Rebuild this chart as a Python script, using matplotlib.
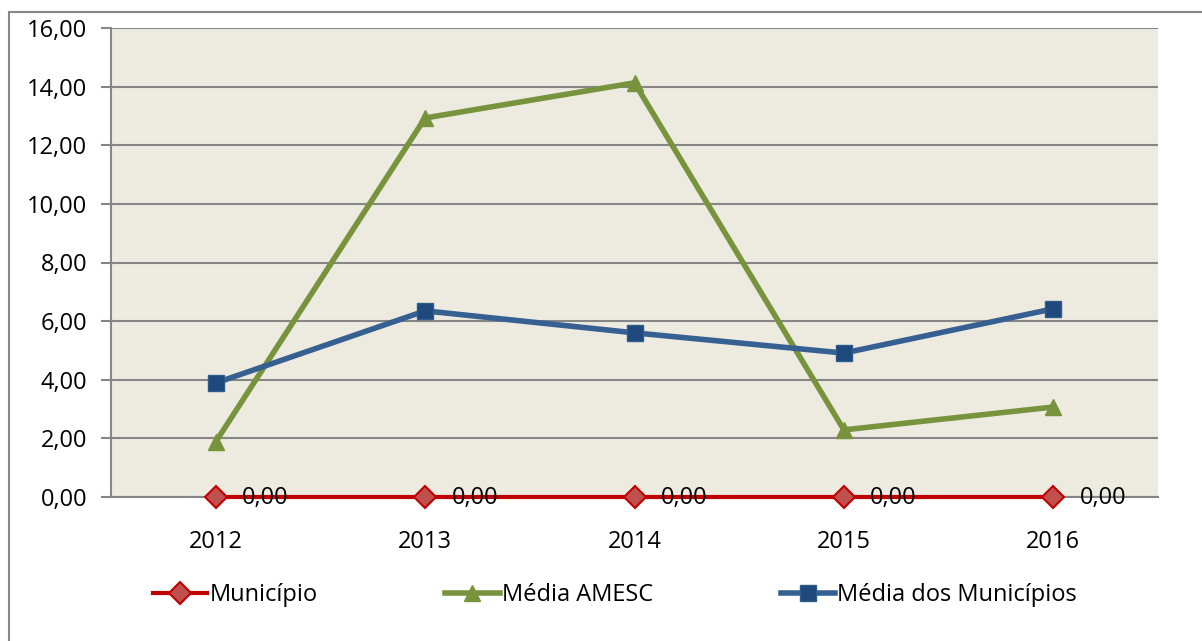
import matplotlib.pyplot as plt
from matplotlib.patches import Rectangle

# dados
anos = ["2012", "2013", "2014", "2015", "2016"]
municipio = [0.0, 0.0, 0.0, 0.0, 0.0]
media_amesc = [1.88, 12.93, 14.13, 2.29, 3.07]
media_municipios = [3.89, 6.35, 5.60, 4.91, 6.42]

plt.rcParams['font.family'] = ['Open Sans', 'DejaVu Sans']
fs = 17

W, H = 1202, 641
fig = plt.figure(figsize=(W / 100, H / 100), dpi=100)
ax = fig.add_axes([111 / W, 1 - 497 / H, (1158 - 111) / W, (497 - 28) / H])
ax.set_facecolor('#EDEAE0')

x = list(range(len(anos)))
ax.plot(x, municipio, color='#C00000', lw=3, marker='D', ms=11,
        mfc='#C0504D', mec='#C00000', mew=1.5, label='Município', zorder=5, clip_on=False)
ax.plot(x, media_amesc, color='#77933C', lw=4, marker='^', ms=12,
        mfc='#77933C', mec='#77933C', label='Média AMESC', zorder=4)
ax.plot(x, media_municipios, color='#376092', lw=4, marker='s', ms=11,
        mfc='#1F497D', mec='#2E5C8A', label='Média dos Municípios', zorder=4)

for xi, v in zip(x, municipio):
    ax.annotate(f"{v:.2f}".replace('.', ','), (xi, v), xytext=(19, -1),
                textcoords='offset points', va='center', ha='left',
                fontsize=fs, zorder=6, annotation_clip=False)

ax.set_xlim(-0.5, 4.5)
ax.set_ylim(0, 16)
ax.set_yticks(range(0, 17, 2))
ax.set_yticklabels([f"{v:.2f}".replace('.', ',') for v in range(0, 17, 2)], fontsize=fs)
ax.set_xticks(x)
ax.set_xticklabels(anos, fontsize=fs)
ax.tick_params(axis='x', length=0, pad=24)
ax.tick_params(axis='y', length=7, color='#868686', width=1.5, pad=10)
ax.grid(axis='y', color='#868686', lw=1.5)
ax.set_axisbelow(True)
for s in ['top', 'right']:
    ax.spines[s].set_visible(False)
for s in ['left', 'bottom']:
    ax.spines[s].set_color('#868686')
    ax.spines[s].set_linewidth(1.5)

fig.legend(loc='center', bbox_to_anchor=(615 / W, 1 - 595 / H), ncol=3, frameon=False,
           fontsize=fs, handlelength=2.3, handletextpad=0.1, columnspacing=5.4)

fig.patches.append(Rectangle((9 / W, -0.1), 1.2, 1 - 12 / H + 0.1, transform=fig.transFigure,
                             fill=False, edgecolor='#868686', lw=1.5))

fig.savefig('out.png', dpi=100)
